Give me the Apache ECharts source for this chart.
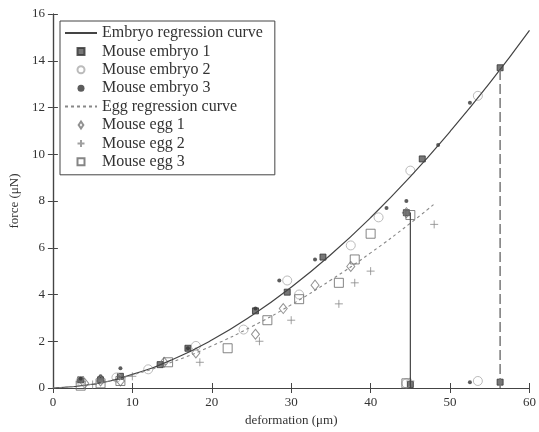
<!DOCTYPE html>
<html><head><meta charset="utf-8">
<script src="https://cdn.jsdelivr.net/npm/echarts@6/dist/echarts.min.js"></script>
<style>html,body{margin:0;padding:0;background:#fff}#c{width:539px;height:432px}</style>
</head><body><div id="c"></div>
<script>
const xTicks = [0, 10, 20, 30, 40, 50, 60];
const yTicks = [0, 2, 4, 6, 8, 10, 12, 14, 16];
const seriesNames = ['Embryo regression curve','Mouse embryo 1','Mouse embryo 2','Mouse embryo 3','Egg regression curve','Mouse egg 1','Mouse egg 2','Mouse egg 3'];
// regression curves
const embryoCurve = [[0,0],[5,0.16],[10,0.58],[15,1.21],[20,2.05],[25,3.09],[30,4.31],[35,5.71],[40,7.29],[45,9.04],[50,10.97],[55,13.05],[60,15.3]];
const eggCurve = [[0,0],[5,0.17],[10,0.56],[15,1.11],[20,1.8],[25,2.62],[30,3.56],[35,4.62],[40,5.78],[45,7.05],[48,7.87]];
// measurements
const embryo1 = [[3.5,0.35],[6,0.35],[8.5,0.5],[13.5,1.0],[17,1.7],[25.5,3.3],[29.5,4.1],[34,5.6],[44.5,7.5],[46.5,9.8],[56.3,13.7],[45,0.15],[56.3,0.25]];
const embryo2 = [[3.5,0.3],[8,0.45],[12,0.8],[18,1.8],[24,2.5],[29.5,4.6],[31,4.0],[37.5,6.1],[41,7.3],[45,9.3],[53.5,12.5],[53.5,0.3],[44.5,0.2]];
const embryo3 = [[3.5,0.4],[6,0.5],[8.5,0.85],[17,1.7],[25.5,3.4],[28.5,4.6],[33,5.5],[42,7.7],[48.5,10.4],[52.5,12.2],[44.5,8.0],[52.5,0.25]];
const egg1 = [[4,0.2],[6,0.3],[8.5,0.3],[14,1.1],[18,1.5],[25.5,2.3],[29,3.4],[33,4.4],[37.5,5.2],[44.5,7.5]];
const egg2 = [[5,0.15],[10,0.5],[18.5,1.1],[26,2.0],[30,2.9],[36,3.6],[38,4.5],[40,5.0],[45,0.3],[48,7.0]];
const egg3 = [[3.5,0.1],[6,0.2],[8.5,0.3],[14.5,1.1],[22,1.7],[27,2.9],[31,3.8],[36,4.5],[38,5.5],[40,6.6],[45,7.4],[44.5,0.2]];
// failure drops
const drop1 = [[45,0],[45,7.5]];
const drop2 = [[56.3,0],[56.3,13.7]];

const FONT = 'Liberation Serif';
const INK = '#333';
const chart = echarts.init(document.getElementById('c'));
function axisCommon(show) {
  return {
    axisLine: {show: true, lineStyle: {color: '#444', width: 1.2}},
    axisTick: {show: true, inside: true, length: 5, lineStyle: {color: '#444'}},
    splitLine: {show: false},
    axisLabel: {show: show, color: INK, fontFamily: FONT, fontSize: 13}
  };
}
const plusPath = 'path://M5 0 L5 10 M0 5 L10 5';
const squarePath = 'path://M0 0 L10 0 L10 10 L0 10 Z';
const diamondPath = 'path://M5 0 L9 6 L5 12 L1 6 Z';
const dotPath = 'path://M0 5 A5 5 0 1 1 10 5 A5 5 0 1 1 0 5 Z';
chart.setOption({
  animation: false,
  backgroundColor: '#fff',
  grid: {left: 52, right: 9, top: 14, bottom: 44},
  xAxis: [
    Object.assign({type: 'value', min: xTicks[0], max: xTicks[xTicks.length-1], interval: 10,
      name: 'deformation (μm)', nameLocation: 'middle', nameGap: 22,
      nameTextStyle: {color: INK, fontFamily: FONT, fontSize: 13}}, axisCommon(true)),
    Object.assign({type: 'value', position: 'top', min: 0, max: 60, interval: 10}, axisCommon(false))
  ],
  yAxis: [
    Object.assign({type: 'value', min: yTicks[0], max: yTicks[yTicks.length-1], interval: 2,
      name: 'force (μN)', nameLocation: 'middle', nameGap: 31,
      nameTextStyle: {color: INK, fontFamily: FONT, fontSize: 13}}, axisCommon(true)),
    Object.assign({type: 'value', position: 'right', min: 0, max: 16, interval: 2}, axisCommon(false))
  ],
  legend: {
    orient: 'vertical', left: 60, top: 21,
    data: [
      {name: seriesNames[0], itemStyle: {opacity: 0}},
      {name: seriesNames[1]},
      {name: seriesNames[2]},
      {name: seriesNames[3]},
      {name: seriesNames[4], itemStyle: {opacity: 0}},
      {name: seriesNames[5]},
      {name: seriesNames[6]},
      {name: seriesNames[7]}
    ],
    borderColor: '#444', borderWidth: 1, borderRadius: 0, padding: [4, 12, 5, 4],
    itemWidth: 32, itemHeight: 7, itemGap: 2.4, symbolKeepAspect: true,
    textStyle: {color: INK, fontFamily: FONT, fontSize: 16, lineHeight: 16},
    backgroundColor: '#fff'
  },
  series: [
    {name: seriesNames[0], type: 'line', data: embryoCurve, smooth: true, symbol: 'none',
     lineStyle: {color: '#444', width: 1.2}, itemStyle: {color: '#444'}, z: 3},
    {name: seriesNames[1], type: 'scatter', data: embryo1, symbol: squarePath, symbolSize: 6,
     itemStyle: {color: '#555', borderColor: '#333', borderWidth: 1}},
    {name: seriesNames[2], type: 'scatter', data: embryo2, symbol: 'circle', symbolSize: 9,
     itemStyle: {color: 'transparent', borderColor: '#aaa', borderWidth: 1}},
    {name: seriesNames[3], type: 'scatter', data: embryo3, symbol: dotPath, symbolSize: 4,
     itemStyle: {color: '#333'}},
    {name: seriesNames[4], type: 'line', data: eggCurve, smooth: true, symbol: 'none',
     lineStyle: {color: '#888', width: 1.1, type: [3, 3]}, itemStyle: {color: '#888'}, z: 3},
    {name: seriesNames[5], type: 'scatter', data: egg1, symbol: diamondPath, symbolSize: [8, 10],
     itemStyle: {color: 'transparent', borderColor: '#777', borderWidth: 1}},
    {name: seriesNames[6], type: 'scatter', data: egg2, symbol: plusPath, symbolSize: 8,
     itemStyle: {color: 'transparent', borderColor: '#888', borderWidth: 1}},
    {name: seriesNames[7], type: 'scatter', data: egg3, symbol: squarePath, symbolSize: 9,
     itemStyle: {color: 'transparent', borderColor: '#666', borderWidth: 1}},
    {type: 'line', data: drop1, symbol: 'none', lineStyle: {color: '#444', width: 1.2}},
    {type: 'line', data: drop2, symbol: 'none', lineStyle: {color: '#777', width: 1.5, type: [10, 4]}}
  ]
});
</script></body></html>
